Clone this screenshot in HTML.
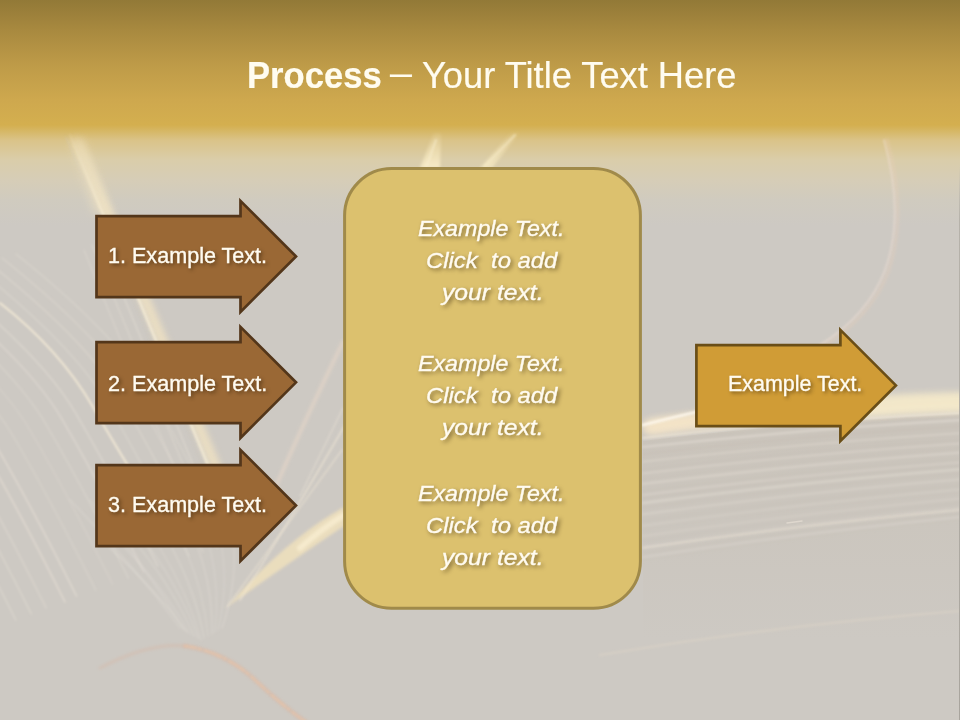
<!DOCTYPE html>
<html>
<head>
<meta charset="utf-8">
<style>
html,body{margin:0;padding:0;}
body{width:960px;height:720px;overflow:hidden;position:relative;
  font-family:"Liberation Sans", sans-serif;
  background:#cdc9c1;}
#bg{position:absolute;left:0;top:0;width:960px;height:720px;}
.t{position:absolute;white-space:nowrap;line-height:1;transform-origin:0 0;color:#fffbf0;
  text-shadow:2px 2px 4px rgba(40,25,5,0.6);-webkit-text-stroke:0.35px #fffbf0;}
.title{color:#fffcf0;text-shadow:none;-webkit-text-stroke:0.2px #fffcf0;}
</style>
</head>
<body>
<svg id="bg" width="960" height="720" viewBox="0 0 960 720">
  <defs>
    <linearGradient id="hdr" gradientUnits="userSpaceOnUse" x1="0" y1="0" x2="0" y2="225">
      <stop offset="0.0000" stop-color="#927937"/>
      <stop offset="0.1333" stop-color="#a8893f"/>
      <stop offset="0.2889" stop-color="#be9b48"/>
      <stop offset="0.4444" stop-color="#cea84e"/>
      <stop offset="0.5556" stop-color="#d4af4f"/>
      <stop offset="0.5822" stop-color="#d6b765"/>
      <stop offset="0.6222" stop-color="#dac388"/>
      <stop offset="0.7111" stop-color="#dacdaa"/>
      <stop offset="0.8000" stop-color="#d6cdb7"/>
      <stop offset="0.8889" stop-color="#d0cbbf"/>
      <stop offset="1.0000" stop-color="#cdc9c3"/>
    </linearGradient>
    <linearGradient id="mAg" gradientUnits="userSpaceOnUse" x1="0" y1="132" x2="0" y2="215">
      <stop offset="0" stop-color="#fff" stop-opacity="0.15"/>
      <stop offset="1" stop-color="#fff" stop-opacity="1"/>
    </linearGradient>
    <mask id="mA" maskUnits="userSpaceOnUse" x="0" y="0" width="960" height="720"><rect x="0" y="0" width="960" height="720" fill="url(#mAg)"/></mask>
    <linearGradient id="glowv" gradientUnits="userSpaceOnUse" x1="0" y1="130" x2="0" y2="168">
      <stop offset="0" stop-color="#f4e4b8" stop-opacity="0"/>
      <stop offset="0.5" stop-color="#f4e4b8" stop-opacity="0.6"/>
      <stop offset="1" stop-color="#f8ecc8" stop-opacity="0.95"/>
    </linearGradient>
    <linearGradient id="edge" gradientUnits="userSpaceOnUse" x1="0" y1="165" x2="0" y2="720">
      <stop offset="0" stop-color="#b0aca4" stop-opacity="0"/>
      <stop offset="0.1" stop-color="#b0aca4" stop-opacity="0.8"/>
      <stop offset="1" stop-color="#a8a49d" stop-opacity="1"/>
    </linearGradient>
    <linearGradient id="pgtint" gradientUnits="userSpaceOnUse" x1="0" y1="414" x2="0" y2="640">
      <stop offset="0" stop-color="#c6bdb0" stop-opacity="0.75"/>
      <stop offset="0.6" stop-color="#c6bdb0" stop-opacity="0.35"/>
      <stop offset="1" stop-color="#c6bdb0" stop-opacity="0"/>
    </linearGradient>
    <filter id="b1" filterUnits="userSpaceOnUse" x="-20" y="-20" width="1000" height="760"><feGaussianBlur stdDeviation="0.8"/></filter>
    <filter id="b2" filterUnits="userSpaceOnUse" x="-20" y="-20" width="1000" height="760"><feGaussianBlur stdDeviation="1.5"/></filter>
    <filter id="b3" filterUnits="userSpaceOnUse" x="-20" y="-20" width="1000" height="760"><feGaussianBlur stdDeviation="3"/></filter>
    <filter id="b4" filterUnits="userSpaceOnUse" x="-20" y="-20" width="1000" height="760"><feGaussianBlur stdDeviation="4"/></filter>
    <filter id="b6" filterUnits="userSpaceOnUse" x="-20" y="-20" width="1000" height="760"><feGaussianBlur stdDeviation="6"/></filter>
  </defs>
  <rect x="0" y="0" width="960" height="720" fill="#cdc9c3"/>
  <rect x="0" y="0" width="960" height="225" fill="url(#hdr)"/>
  <g id="streaks" fill="none" stroke-linecap="round">
    <!-- right page lower area tint -->
    <path d="M643,441 Q780,424 960,414 V720 H643 Z" fill="url(#pgtint)" stroke="none" opacity="0.6"/>
    <!-- E: right page edge glow -->
    <path d="M655,426 Q800,412 965,403" stroke="#f0e4cc" stroke-width="14" opacity="0.55" filter="url(#b3)"/>
    <path d="M850,408 Q900,403 965,402" stroke="#f8ecca" stroke-width="20" opacity="0.8" filter="url(#b3)"/>
    <path d="M650,427 Q685,421 735,416" stroke="#f8e6c8" stroke-width="16" opacity="0.8" filter="url(#b3)"/>
    <path d="M643,438 Q780,422 960,413" stroke="#f8eedc" stroke-width="2" opacity="0.6" filter="url(#b1)"/>
    <path d="M643,425 Q670,418 705,410" stroke="#fffaf0" stroke-width="2.5" opacity="0.9" filter="url(#b1)"/>
    <!-- I: right page lines -->
    <g filter="url(#b1)">
      <path d="M643,447.0 Q800,429.6 960,420.2" stroke="#e4ddd4" stroke-width="2.2" opacity="0.61"/>
      <path d="M643,454.1 Q800,436.2 960,426.4" stroke="#c4bdb4" stroke-width="2.2" opacity="0.33"/>
      <path d="M643,461.7 Q800,443.4 960,433.1" stroke="#e4ddd4" stroke-width="1.8" opacity="0.42"/>
      <path d="M643,469.5 Q800,450.7 960,439.9" stroke="#c4bdb4" stroke-width="2.4" opacity="0.26"/>
      <path d="M643,473.5 Q800,454.5 960,443.5" stroke="#e4ddd4" stroke-width="1.5" opacity="0.49"/>
      <path d="M643,479.4 Q800,460.1 960,448.7" stroke="#c4bdb4" stroke-width="1.2" opacity="0.24"/>
      <path d="M643,483.9 Q800,464.3 960,452.6" stroke="#e4ddd4" stroke-width="2.4" opacity="0.42"/>
      <path d="M643,490.9 Q800,470.8 960,458.7" stroke="#c4bdb4" stroke-width="2.2" opacity="0.17"/>
      <path d="M643,495.0 Q800,474.7 960,462.4" stroke="#e4ddd4" stroke-width="1.4" opacity="0.46"/>
      <path d="M643,498.5 Q800,478.0 960,465.5" stroke="#c4bdb4" stroke-width="1.5" opacity="0.25"/>
      <path d="M643,503.0 Q800,482.2 960,469.4" stroke="#e4ddd4" stroke-width="2.3" opacity="0.50"/>
      <path d="M643,507.8 Q800,486.7 960,473.6" stroke="#c4bdb4" stroke-width="1.9" opacity="0.24"/>
      <path d="M643,514.3 Q800,492.8 960,479.4" stroke="#e4ddd4" stroke-width="2.4" opacity="0.33"/>
      <path d="M643,520.9 Q800,499.1 960,485.2" stroke="#c4bdb4" stroke-width="2.4" opacity="0.22"/>
      <path d="M643,525.8 Q800,503.6 960,489.5" stroke="#e4ddd4" stroke-width="1.4" opacity="0.33"/>
      <path d="M643,529.9 Q800,507.5 960,493.1" stroke="#c4bdb4" stroke-width="1.6" opacity="0.12"/>
      <path d="M643,536.1 Q800,513.4 960,498.6" stroke="#e4ddd4" stroke-width="2.1" opacity="0.25"/>
      <path d="M643,541.1 Q800,518.1 960,503.0" stroke="#c4bdb4" stroke-width="2.3" opacity="0.13"/>
      <path d="M643,546.8 Q800,523.4 960,508.0" stroke="#e4ddd4" stroke-width="1.8" opacity="0.26"/>
      <path d="M643,553.5 Q800,529.7 960,513.9" stroke="#c4bdb4" stroke-width="2.5" opacity="0.10"/>
      <path d="M643,557.1 Q800,533.1 960,517.0" stroke="#e4ddd4" stroke-width="2.3" opacity="0.29"/>
      <path d="M643,560.7 Q800,536.4 960,520.2" stroke="#c4bdb4" stroke-width="1.7" opacity="0.14"/>
    </g>
    <path d="M643,548 Q800,525 960,510" stroke="#efe6d8" stroke-width="1.5" opacity="0.6" filter="url(#b1)"/>
    <path d="M787,523 L802,521" stroke="#f4ece0" stroke-width="1.5" opacity="0.5"/>
    <path d="M600,655 Q780,625 960,611" stroke="#dcd3c6" stroke-width="2" opacity="0.6" filter="url(#b1)"/>
    <!-- A: left page bright edge -->
    <g mask="url(#mA)">
    <path d="M77,140 Q142,292 217,470" stroke="#f6e6c2" stroke-width="11" opacity="0.7" filter="url(#b3)"/>
    <path d="M70,135 Q135,290 210,470" stroke="#fdf4dc" stroke-width="2.2" opacity="0.7" filter="url(#b1)"/>
    </g>
    <path d="M66,137 Q131,292 205,472" stroke="#c9c3b8" stroke-width="1" opacity="0.5" filter="url(#b1)"/>
    <path d="M100,240 Q142,340 196,472" stroke="#e6e0d6" stroke-width="1.3" opacity="0.55" filter="url(#b1)"/>
    <path d="M92,245 Q133,345 187,474" stroke="#e6e0d6" stroke-width="1.2" opacity="0.45" filter="url(#b1)"/>
    <path d="M84,250 Q124,350 178,476" stroke="#e6e0d6" stroke-width="1.2" opacity="0.4" filter="url(#b1)"/>
    <path d="M70,140 L84,140 L112,214 L94,214 Z" fill="#f4e6c4" opacity="0.45" filter="url(#b4)"/>
    <!-- L: left edge curves -->
    <path d="M0,303 Q60,350 93,407 T150,500" stroke="#f8eed8" stroke-width="2" opacity="0.8" filter="url(#b1)"/>
    <g filter="url(#b1)">
      <path transform="translate(-17.4,6.0)" d="M-40,270 Q60,350 93,407 Q130,470 175,560" stroke="#e8e2d8" stroke-width="1.4" opacity="0.52"/>
      <path transform="translate(-31.1,12.0)" d="M-40,270 Q60,350 93,407 Q130,470 175,560" stroke="#e6dfd6" stroke-width="1.5" opacity="0.52"/>
      <path transform="translate(-46.6,18.0)" d="M-40,270 Q60,350 93,407 Q130,470 175,560" stroke="#e8e2d8" stroke-width="1.3" opacity="0.38"/>
      <path transform="translate(-62.5,24.0)" d="M-40,270 Q60,350 93,407 Q130,470 175,560" stroke="#e6dfd6" stroke-width="1.1" opacity="0.36"/>
      <path transform="translate(-79.3,30.0)" d="M-40,270 Q60,350 93,407 Q130,470 175,560" stroke="#e8e2d8" stroke-width="1.2" opacity="0.35"/>
      <path transform="translate(-98.5,36.0)" d="M-40,270 Q60,350 93,407 Q130,470 175,560" stroke="#ece4d8" stroke-width="1.5" opacity="0.55"/>
      <path transform="translate(-110.0,42.0)" d="M-40,270 Q60,350 93,407 Q130,470 175,560" stroke="#ece4d8" stroke-width="1.6" opacity="0.54"/>
      <path transform="translate(-128.9,48.0)" d="M-40,270 Q60,350 93,407 Q130,470 175,560" stroke="#e6dfd6" stroke-width="1.5" opacity="0.41"/>
      <path transform="translate(-143.6,54.0)" d="M-40,270 Q60,350 93,407 Q130,470 175,560" stroke="#ece4d8" stroke-width="1.2" opacity="0.46"/>
      <path transform="translate(-159.2,60.0)" d="M-40,270 Q60,350 93,407 Q130,470 175,560" stroke="#e6dfd6" stroke-width="1.2" opacity="0.51"/>
      <path transform="translate(14,-4)" d="M-40,270 Q60,350 93,407 Q130,470 175,560" stroke="#e8e2d8" stroke-width="1.1" opacity="0.42"/>
      <path transform="translate(28,-8)" d="M-40,270 Q60,350 93,407 Q130,470 175,560" stroke="#e8e2d8" stroke-width="1.1" opacity="0.45"/>
      <path transform="translate(42,-12)" d="M-40,270 Q60,350 93,407 Q130,470 175,560" stroke="#e8e2d8" stroke-width="1.1" opacity="0.40"/>
      <path transform="translate(56,-16)" d="M-40,270 Q60,350 93,407 Q130,470 175,560" stroke="#e8e2d8" stroke-width="1.1" opacity="0.38"/>
    </g>
    <!-- fan lines below arrow 3 -->
    <g filter="url(#b1)">
      <path d="M70,500 Q133,564 180,628" stroke="#e2ddd5" stroke-width="1.2" opacity="0.43"/>
      <path d="M90,500 Q145,565 184,630" stroke="#e2ddd5" stroke-width="1.2" opacity="0.39"/>
      <path d="M110,548 Q156,590 187,632" stroke="#e2ddd5" stroke-width="1.2" opacity="0.51"/>
      <path d="M125,548 Q166,591 190,634" stroke="#e2ddd5" stroke-width="1.2" opacity="0.37"/>
      <path d="M140,548 Q175,592 194,636" stroke="#e2ddd5" stroke-width="1.2" opacity="0.48"/>
      <path d="M150,548 Q182,593 198,638" stroke="#e2ddd5" stroke-width="1.2" opacity="0.44"/>
      <path d="M160,548 Q188,594 201,640" stroke="#e2ddd5" stroke-width="1.2" opacity="0.36"/>
      <path d="M172,548 Q196,593 204,638" stroke="#e2ddd5" stroke-width="1.2" opacity="0.48"/>
      <path d="M185,548 Q204,592 208,636" stroke="#e2ddd5" stroke-width="1.2" opacity="0.36"/>
      <path d="M198,548 Q213,591 212,634" stroke="#e2ddd5" stroke-width="1.2" opacity="0.46"/>
      <path d="M210,548 Q220,590 215,632" stroke="#e2ddd5" stroke-width="1.2" opacity="0.37"/>
      <path d="M222,548 Q228,589 218,630" stroke="#e2ddd5" stroke-width="1.2" opacity="0.37"/>
      <path d="M234,548 Q236,588 222,628" stroke="#e2ddd5" stroke-width="1.2" opacity="0.46"/>
    </g>
    <!-- B: bright diagonal wedge -->
    <path d="M227,607 Q285,540 344,507 L344,526 Q290,562 227,607 Z" fill="#f2e2bc" stroke="none" opacity="0.8" filter="url(#b2)"/>
    <path d="M300,548 Q320,530 344,515" stroke="#fbf0d4" stroke-width="6" opacity="0.7" filter="url(#b2)"/>
    <path d="M240,600 Q290,520 345,425" stroke="#f4ead8" stroke-width="1.5" opacity="0.6" filter="url(#b1)"/>
    <path d="M227,607 L342,450" stroke="#ebe2d2" stroke-width="1.5" opacity="0.6" filter="url(#b1)"/>
    <path d="M270,500 Q300,430 343,342" stroke="#e6d6c8" stroke-width="4" opacity="0.6" filter="url(#b2)"/>
    <path d="M300,496 L343,408" stroke="#e8e0d4" stroke-width="1.3" opacity="0.6" filter="url(#b1)"/>
    <!-- C: glows above the box -->
    <path d="M420,168 L434,133 L441,133 L440,168 Z" fill="url(#glowv)" stroke="none" filter="url(#b2)"/>
    <path d="M426,168 L436,140" stroke="#faf0d0" stroke-width="2" opacity="0.6" filter="url(#b1)"/>
    <path d="M480,168 L512,132 L520,132 L492,168 Z" fill="url(#glowv)" stroke="none" opacity="0.8" filter="url(#b2)"/>
    <path d="M485,166 L515,135" stroke="#f8ecc8" stroke-width="2" opacity="0.6" filter="url(#b1)"/>
    <!-- F: faint arc upper right -->
    <path d="M887,140 Q908,215 888,272 Q871,317 822,347" stroke="#eccfb8" stroke-width="3" opacity="0.35" filter="url(#b2)"/>
    <path d="M884,140 Q905,215 885,270 Q868,315 820,345" stroke="#f2e0d6" stroke-width="1.5" opacity="0.6" filter="url(#b1)"/>
    <!-- G: bottom reddish curve -->
    <path d="M100,668 Q150,642 185,646" stroke="#dcae96" stroke-width="3" opacity="0.3" filter="url(#b2)"/>
    <path d="M185,646 Q225,652 255,680 T310,725" stroke="#e0a88a" stroke-width="4" opacity="0.35" filter="url(#b2)"/>
    <path d="M185,646 Q225,652 255,680 T310,725" stroke="#f0c8a8" stroke-width="2" stroke-dasharray="3 2 6 3 2 4 5 2" opacity="0.6" filter="url(#b1)"/>
  </g>

  <rect x="959" y="165" width="1" height="555" fill="url(#edge)"/>

  <!-- left arrows -->
  <path d="M96.5,216.1 H240.5 V200.9 L296.0,256.4 L240.5,311.9 V297.2 H96.5 Z" fill="#9a6835" stroke="#53361a" stroke-width="2.7"/>
  <path d="M96.5,342.1 H240.5 V326.9 L296.0,382.35 L240.5,437.9 V423.2 H96.5 Z" fill="#9a6835" stroke="#53361a" stroke-width="2.7"/>
  <path d="M96.5,465.1 H240.5 V449.9 L296.0,505.45 L240.5,561.0 V546.2 H96.5 Z" fill="#9a6835" stroke="#53361a" stroke-width="2.7"/>
  
  <!-- center box -->
  <rect x="344.6" y="168.6" width="295.8" height="439.7" rx="47" ry="47" fill="#dcc16e" stroke="#a08a4a" stroke-width="3"/>

  <!-- right arrow -->
  <path d="M696.4,345.1 H840.4 V329.9 L895.9,385.4 L840.4,440.9 V426.2 H696.4 Z" fill="#d09c36" stroke="#6a4e17" stroke-width="2.7"/>
  
</svg>

<!--TEXT-->
<div class="t title" style="left:247.38px;top:57.59px;font-size:36.6px;transform:scaleX(0.9465);font-weight:bold;">Process</div>
<div class="t title" style="left:390.40px;top:55.49px;font-size:36.6px;transform:scaleX(1.0780);">–</div>
<div class="t title" style="left:422.21px;top:57.59px;font-size:36.6px;transform:scaleX(0.9914);">Your Title Text Here</div>
<div class="t" style="left:108.07px;top:245.16px;font-size:21.7px;transform:scaleX(0.9947);">1. Example Text.</div>
<div class="t" style="left:108.02px;top:373.16px;font-size:21.7px;transform:scaleX(0.9951);">2. Example Text.</div>
<div class="t" style="left:108.14px;top:494.16px;font-size:21.7px;transform:scaleX(0.9943);">3. Example Text.</div>
<div class="t" style="left:728.28px;top:373.16px;font-size:21.7px;transform:scaleX(0.9891);">Example Text.</div>
<div class="t" style="left:418.30px;top:217.12px;font-size:22.8px;transform:scaleX(1.0193);font-style:italic;">Example Text.</div>
<div class="t" style="left:425.97px;top:249.02px;font-size:22.8px;transform:scaleX(1.0475);font-style:italic;">Click&nbsp; to add</div>
<div class="t" style="left:441.83px;top:281.02px;font-size:22.8px;transform:scaleX(1.0829);font-style:italic;">your text.</div>
<div class="t" style="left:418.30px;top:352.12px;font-size:22.8px;transform:scaleX(1.0193);font-style:italic;">Example Text.</div>
<div class="t" style="left:425.97px;top:384.02px;font-size:22.8px;transform:scaleX(1.0475);font-style:italic;">Click&nbsp; to add</div>
<div class="t" style="left:441.83px;top:416.02px;font-size:22.8px;transform:scaleX(1.0829);font-style:italic;">your text.</div>
<div class="t" style="left:418.30px;top:482.12px;font-size:22.8px;transform:scaleX(1.0193);font-style:italic;">Example Text.</div>
<div class="t" style="left:425.97px;top:514.02px;font-size:22.8px;transform:scaleX(1.0475);font-style:italic;">Click&nbsp; to add</div>
<div class="t" style="left:441.83px;top:546.02px;font-size:22.8px;transform:scaleX(1.0829);font-style:italic;">your text.</div>
<!--/TEXT-->
</body>
</html>
